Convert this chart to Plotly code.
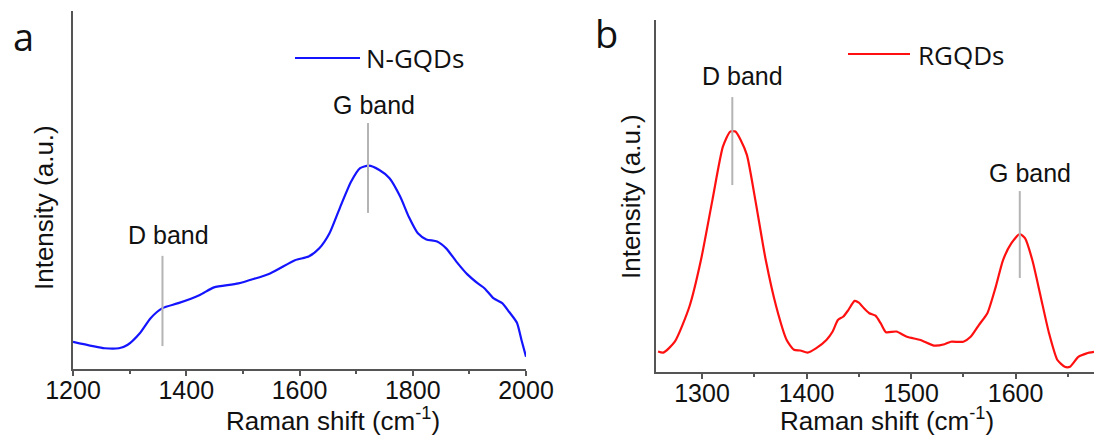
import plotly.graph_objects as go

# ---- data (panel a: N-GQDs) ----
a_shift = [1200, 1256, 1281, 1296, 1318, 1337, 1358, 1386, 1424, 1449, 1492, 1548, 1592,
           1616, 1635, 1653, 1672, 1691, 1707, 1722, 1741, 1759, 1778, 1793, 1809, 1824,
           1843, 1859, 1877, 1896, 1915, 1927, 1943, 1958, 1970, 1984, 1992, 2000]
a_int = [7.6, 5.8, 5.8, 6.7, 10.0, 14.2, 17.0, 18.4, 20.7, 22.8, 23.9, 26.7, 30.4,
         31.4, 33.7, 37.9, 45.3, 52.3, 56.1, 56.8, 55.6, 53.3, 48.1, 42.5, 37.9, 36.2,
         35.6, 33.7, 30.0, 26.5, 23.9, 22.5, 19.7, 18.4, 16.0, 12.9, 8.1, 3.4]

# ---- data (panel b: RGQDs) ----
b_shift = [1258, 1263, 1274, 1288, 1299, 1310, 1320, 1327, 1332, 1337, 1343, 1351, 1361,
           1371, 1381, 1388, 1394, 1401, 1409, 1419, 1425, 1430, 1435, 1440, 1446, 1450,
           1455, 1460, 1466, 1471, 1476, 1486, 1496, 1509, 1522, 1532, 1538, 1550, 1557,
           1565, 1573, 1581, 1588, 1596, 1604, 1609, 1616, 1624, 1632, 1640, 1647, 1652,
           1660, 1668, 1675]
b_int = [5.8, 5.5, 8.6, 18.6, 31.8, 48.9, 64.0, 68.3, 68.3, 65.9, 61.6, 48.9, 31.8,
         18.6, 9.1, 6.3, 6.1, 5.5, 6.7, 9.1, 11.5, 14.8, 15.7, 17.6, 20.2, 19.7,
         18.1, 16.7, 16.0, 13.8, 11.3, 11.5, 10.0, 9.1, 7.5, 7.9, 8.6, 8.6, 10.0,
         13.4, 16.7, 24.2, 31.8, 36.6, 39.2, 38.0, 31.8, 21.4, 11.0, 3.4, 1.5, 1.5,
         4.3, 5.3, 5.7]

# band markers: (label, position, line y0, line y1, label y)
a_bands = [("D band", 1358, 6.4, 31.6, 37.4), ("G band", 1721, 43.6, 68.7, 73.7)]
b_bands = [("D band", 1329, 53.1, 78.1, 84.1), ("G band", 1604, 26.7, 51.4, 56.5)]
a_ticks = [1200, 1400, 1600, 1800, 2000]
b_ticks = [1300, 1400, 1500, 1600]

W, H = 1094, 439
def px(x): return x / W
def py(y): return 1 - y / H

AX = "#555555"
TXT = "#111111"
FONT = "Liberation Sans"

fig = go.Figure()
fig.add_trace(go.Scatter(x=a_shift, y=a_int, mode="lines", line=dict(color="#1414ff", width=2.2, shape="spline", smoothing=0.6),
                         xaxis="x", yaxis="y", showlegend=False))
fig.add_trace(go.Scatter(x=b_shift, y=b_int, mode="lines", line=dict(color="#ff1010", width=2.2, shape="spline", smoothing=0.6),
                         xaxis="x2", yaxis="y2", showlegend=False))

common_x = dict(showgrid=False, zeroline=False, showline=True, linecolor=AX, linewidth=1.5,
                ticks="outside", ticklen=5, tickwidth=1.5, tickcolor=AX, automargin=False,
                ticklabelstandoff=-7,
                tickfont=dict(family=FONT, size=25, color=TXT))
common_y = dict(showgrid=False, zeroline=False, showline=True, linecolor=AX, linewidth=1.5,
                showticklabels=False, ticks="", range=[0, 100], automargin=False)

fig.update_layout(
    template="none",
    width=W, height=H, margin=dict(l=0, r=0, t=0, b=0, pad=0, autoexpand=False),
    paper_bgcolor="white", plot_bgcolor="white",
    xaxis=dict(domain=[px(73), px(526)], range=[1200, 2000], tickvals=a_ticks,
               minor=dict(dtick=100, ticks="outside", ticklen=3, tickcolor=AX, tickwidth=1.5), anchor="y", **common_x),
    yaxis=dict(domain=[py(369), py(11)], anchor="x", **common_y),
    xaxis2=dict(domain=[px(656), 1.0], range=[1256, 1675], tickvals=b_ticks,
                minor=dict(dtick=50, ticks="outside", ticklen=3, tickcolor=AX, tickwidth=1.5), anchor="y2", **common_x),
    yaxis2=dict(domain=[py(372), py(20)], anchor="x2", **common_y),
)

shapes = []
annotations = []
for (lab, pos, y0, y1, ly), xr, yr in [(b, "x", "y") for b in a_bands] + [(b, "x2", "y2") for b in b_bands]:
    shapes.append(dict(type="line", xref=xr, yref=yr, x0=pos, x1=pos, y0=y0, y1=y1,
                       line=dict(color="#b4b4b4", width=2)))
    annotations.append(dict(xref=xr, yref=yr, x=pos + 10, y=ly, text=lab, showarrow=False,
                            font=dict(family=FONT, size=25, color=TXT), xanchor="center", yanchor="middle"))

# legends (manual)
shapes.append(dict(type="line", xref="paper", yref="paper", x0=px(295), x1=px(360), y0=py(58), y1=py(58),
                   line=dict(color="#1414ff", width=2.2)))
shapes.append(dict(type="line", xref="paper", yref="paper", x0=px(848), x1=px(910), y0=py(54), y1=py(54),
                   line=dict(color="#ff1010", width=2.2)))
annotations.append(dict(xref="paper", yref="paper", x=px(364), y=py(58), text="N-GQDs", showarrow=False,
                        xanchor="left", yanchor="middle", font=dict(family="Open Sans", size=26, color=TXT)))
annotations.append(dict(xref="paper", yref="paper", x=px(916), y=py(55), text="RGQDs", showarrow=False,
                        xanchor="left", yanchor="middle", font=dict(family="Open Sans", size=26, color=TXT)))

# panel labels
annotations.append(dict(xref="paper", yref="paper", x=px(23), y=py(36), text="a", showarrow=False,
                        xanchor="center", yanchor="middle", font=dict(family="Open Sans", size=38, color=TXT)))
annotations.append(dict(xref="paper", yref="paper", x=px(606), y=py(33), text="b", showarrow=False,
                        xanchor="center", yanchor="middle", font=dict(family="Open Sans", size=38, color=TXT)))

# axis titles
for xc, yc in [(333, 419), (887, 419)]:
    annotations.append(dict(xref="paper", yref="paper", x=px(xc), y=py(yc), text="Raman shift (cm<sup>-1</sup>)",
                            showarrow=False, xanchor="center", yanchor="middle",
                            font=dict(family=FONT, size=26, color=TXT)))
for xc, yc in [(44, 208), (631, 197)]:
    annotations.append(dict(xref="paper", yref="paper", x=px(xc), y=py(yc), text="Intensity (a.u.)",
                            showarrow=False, xanchor="center", yanchor="middle", textangle=-90,
                            font=dict(family=FONT, size=26, color=TXT)))

fig.update_layout(shapes=shapes, annotations=annotations)
fig.write_html("out.html", config={"responsive": False, "displayModeBar": False},
               post_script="document.body.style.margin='0px';document.body.style.overflow='hidden';")
